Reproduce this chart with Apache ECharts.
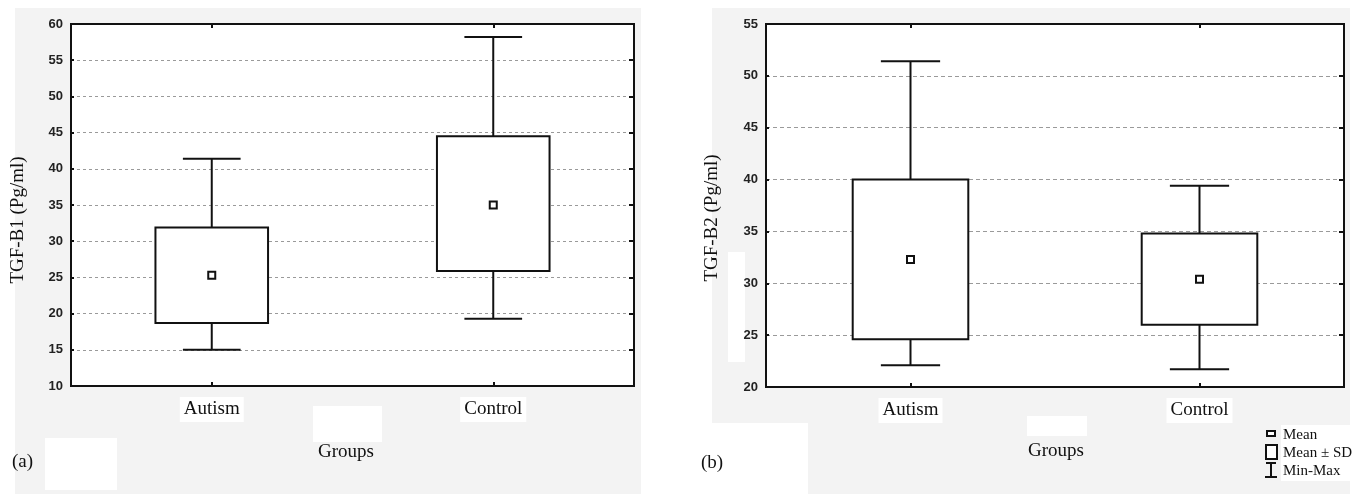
<!DOCTYPE html>
<html>
<head>
<meta charset="utf-8">
<script src="https://cdn.jsdelivr.net/npm/echarts@6/dist/echarts.min.js"></script>
<style>
html,body{margin:0;padding:0;background:#fff;}
#c{width:1354px;height:497px;}
</style>
</head>
<body>
<div id="c"></div>
<script>
// ---- data ----
const categories = ['Autism', 'Control'];
// Panel (a) TGF-B1
const b1Min    = [15.0, 19.3];
const b1SdLow  = [18.7, 25.9];
const b1Mean   = [25.3, 35.0];
const b1SdHigh = [31.9, 44.5];
const b1Max    = [41.4, 58.2];
// Panel (b) TGF-B2
const b2Min    = [22.1, 21.7];
const b2SdLow  = [24.6, 26.0];
const b2Mean   = [32.3, 30.4];
const b2SdHigh = [40.0, 34.8];
const b2Max    = [51.4, 39.4];
// axis ranges / tick labels
const yTicksA = [10, 15, 20, 25, 30, 35, 40, 45, 50, 55, 60];
const yTicksB = [20, 25, 30, 35, 40, 45, 50, 55];

const SERIF = '"Liberation Serif", "Times New Roman", serif';
const SANS = '"Liberation Sans", Arial, sans-serif';

function rows(mn, lo, me, hi, mx) {
  return categories.map((c, i) => [i, mn[i], lo[i], me[i], hi[i], mx[i]]);
}

function renderBox(params, api) {
  const x = api.value(0);
  const pMin = api.coord([x, api.value(1)]);
  const pLo = api.coord([x, api.value(2)]);
  const pMean = api.coord([x, api.value(3)]);
  const pHi = api.coord([x, api.value(4)]);
  const pMax = api.coord([x, api.value(5)]);
  const band = api.size([1, 0])[0];
  const boxW = band * 0.40;
  const capW = band * 0.205;
  const cx = pMean[0];
  const ls = {stroke: '#111', lineWidth: 2};
  return {
    type: 'group',
    children: [
      {type: 'line', shape: {x1: cx, y1: pHi[1], x2: cx, y2: pMax[1]}, style: ls},
      {type: 'line', shape: {x1: cx - capW / 2, y1: pMax[1], x2: cx + capW / 2, y2: pMax[1]}, style: ls},
      {type: 'line', shape: {x1: cx, y1: pLo[1], x2: cx, y2: pMin[1]}, style: ls},
      {type: 'line', shape: {x1: cx - capW / 2, y1: pMin[1], x2: cx + capW / 2, y2: pMin[1]}, style: ls},
      {type: 'rect', shape: {x: cx - boxW / 2, y: pHi[1], width: boxW, height: pLo[1] - pHi[1]},
        style: {fill: '#fff', stroke: '#111', lineWidth: 2}},
      {type: 'rect', shape: {x: cx - 3.5, y: pMean[1] - 3.5, width: 7, height: 7},
        style: {fill: '#fff', stroke: '#111', lineWidth: 2}}
    ]
  };
}

function yAxisPair(gi, ticks, dash) {
  const mn = ticks[0], mx = ticks[ticks.length - 1];
  return [
    {
      type: 'value', gridIndex: gi, min: mn, max: mx, interval: 5, position: 'left',
      axisLine: {show: true, lineStyle: {color: '#111', width: 2}},
      axisTick: {show: true, inside: true, length: 3, lineStyle: {color: '#111', width: 2}},
      axisLabel: {color: '#222', fontFamily: SANS, fontWeight: 'bold', fontSize: 13, margin: 8},
      splitLine: {show: true, lineStyle: {color: '#9a9a9a', width: 1, type: dash}}
    },
    {
      type: 'value', gridIndex: gi, min: mn, max: mx, interval: 5, position: 'right',
      axisLine: {show: true, lineStyle: {color: '#111', width: 2}},
      axisTick: {show: true, inside: true, length: 5, lineStyle: {color: '#111', width: 2}},
      axisLabel: {show: false},
      splitLine: {show: false}
    }
  ];
}

function xAxisPair(gi) {
  return [
    {
      type: 'category', gridIndex: gi, data: categories, position: 'bottom',
      axisLine: {show: true, lineStyle: {color: '#111', width: 2}},
      axisTick: {show: true, inside: true, alignWithLabel: true, length: 4, lineStyle: {color: '#111', width: 2}},
      axisLabel: {color: '#111', fontFamily: SERIF, fontSize: 19, margin: 11,
        backgroundColor: '#fff', padding: [3, 4, 3, 4]},
      splitLine: {show: false}
    },
    {
      type: 'category', gridIndex: gi, data: categories, position: 'top',
      axisLine: {show: true, lineStyle: {color: '#111', width: 2}},
      axisTick: {show: true, inside: true, alignWithLabel: true, length: 4, lineStyle: {color: '#111', width: 2}},
      axisLabel: {show: false},
      splitLine: {show: false}
    }
  ];
}

const chart = echarts.init(document.getElementById('c'), null, {renderer: 'canvas'});

const legendX = 1271;
const option = {
  backgroundColor: '#ffffff',
  animation: false,
  graphic: [
    {type: 'rect', z: -10, shape: {x: 15, y: 8, width: 626, height: 486}, style: {fill: '#f3f3f3'}},
    {type: 'rect', z: -10, shape: {x: 712, y: 8, width: 638, height: 486}, style: {fill: '#f3f3f3'}},
    {type: 'rect', z: -9, shape: {x: 313, y: 406, width: 69, height: 36}, style: {fill: '#ffffff'}},
    {type: 'rect', z: -9, shape: {x: 45, y: 438, width: 72, height: 52}, style: {fill: '#ffffff'}},
    {type: 'rect', z: -9, shape: {x: 712, y: 423, width: 96, height: 71}, style: {fill: '#ffffff'}},
    {type: 'rect', z: -9, shape: {x: 1027, y: 416, width: 60, height: 20}, style: {fill: '#ffffff'}},
    {type: 'rect', z: -9, shape: {x: 1281, y: 425, width: 73, height: 56}, style: {fill: '#ffffff'}},
    {type: 'rect', z: -9, shape: {x: 728, y: 252, width: 17, height: 110}, style: {fill: '#ffffff'}},
    {type: 'text', x: 18, y: 220, rotation: Math.PI / 2,
      style: {text: 'TGF-B1 (Pg/ml)', fill: '#111', font: '19px ' + SERIF, textAlign: 'center', textVerticalAlign: 'middle'}},
    {type: 'text', x: 712, y: 218, rotation: Math.PI / 2,
      style: {text: 'TGF-B2 (Pg/ml)', fill: '#111', font: '19px ' + SERIF, textAlign: 'center', textVerticalAlign: 'middle'}},
    {type: 'text', x: 346, y: 452,
      style: {text: 'Groups', fill: '#111', font: '19px ' + SERIF, textAlign: 'center', textVerticalAlign: 'middle'}},
    {type: 'text', x: 1056, y: 451,
      style: {text: 'Groups', fill: '#111', font: '19px ' + SERIF, textAlign: 'center', textVerticalAlign: 'middle'}},
    {type: 'text', x: 12, y: 462,
      style: {text: '(a)', fill: '#111', font: '19px ' + SERIF, textAlign: 'left', textVerticalAlign: 'middle'}},
    {type: 'text', x: 701, y: 463,
      style: {text: '(b)', fill: '#111', font: '19px ' + SERIF, textAlign: 'left', textVerticalAlign: 'middle'}},
    // legend
    {type: 'rect', shape: {x: 1267, y: 431, width: 8, height: 5}, style: {fill: '#fff', stroke: '#111', lineWidth: 2}},
    {type: 'rect', shape: {x: 1266, y: 445, width: 11, height: 14}, style: {fill: '#fff', stroke: '#111', lineWidth: 2}},
    {type: 'line', shape: {x1: legendX, y1: 463, x2: legendX, y2: 477}, style: {stroke: '#111', lineWidth: 2}},
    {type: 'line', shape: {x1: 1266, y1: 463, x2: 1276, y2: 463}, style: {stroke: '#111', lineWidth: 2}},
    {type: 'line', shape: {x1: 1265, y1: 477, x2: 1277, y2: 477}, style: {stroke: '#111', lineWidth: 2}},
    {type: 'text', x: 1283, y: 435,
      style: {text: 'Mean', fill: '#111', font: '15px ' + SERIF, textAlign: 'left', textVerticalAlign: 'middle'}},
    {type: 'text', x: 1283, y: 453,
      style: {text: 'Mean \u00b1 SD', fill: '#111', font: '15px ' + SERIF, textAlign: 'left', textVerticalAlign: 'middle'}},
    {type: 'text', x: 1283, y: 471,
      style: {text: 'Min-Max', fill: '#111', font: '15px ' + SERIF, textAlign: 'left', textVerticalAlign: 'middle'}}
  ],
  grid: [
    {left: 71, top: 24, width: 563, height: 362, show: true, backgroundColor: '#fff', borderColor: '#111', borderWidth: 2},
    {left: 766, top: 24, width: 578, height: 363, show: true, backgroundColor: '#fff', borderColor: '#111', borderWidth: 2}
  ],
  xAxis: [].concat(xAxisPair(0), xAxisPair(1)),
  yAxis: [].concat(yAxisPair(0, yTicksA, [3, 3]), yAxisPair(1, yTicksB, [4, 3])),
  series: [
    {
      type: 'custom', name: 'TGF-B1', xAxisIndex: 0, yAxisIndex: 0,
      encode: {x: 0, y: [1, 2, 3, 4, 5]},
      data: rows(b1Min, b1SdLow, b1Mean, b1SdHigh, b1Max),
      renderItem: renderBox, z: 5
    },
    {
      type: 'custom', name: 'TGF-B2', xAxisIndex: 2, yAxisIndex: 2,
      encode: {x: 0, y: [1, 2, 3, 4, 5]},
      data: rows(b2Min, b2SdLow, b2Mean, b2SdHigh, b2Max),
      renderItem: renderBox, z: 5
    }
  ]
};
chart.setOption(option);
</script>
</body>
</html>
